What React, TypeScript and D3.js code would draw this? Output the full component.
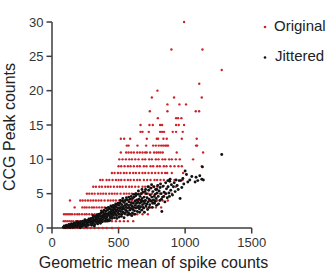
import React from "react";
import * as d3 from "d3";

const W = 329;
const H = 275;

const xTicks = [0, 500, 1000, 1500];
const yTicks = [0, 5, 10, 15, 20, 25, 30];

// Original (integer peak counts): x positions per count level
const originalRows: [number, number[]][] = [
  [0, [90, 105, 120, 140, 155, 175, 195, 215, 240, 265, 290, 320, 350, 380, 410, 450, 500]],
  [1, [88, 100, 115, 130, 145, 160, 180, 195, 215, 235, 250, 270, 290, 310, 330, 355, 380, 400, 425, 450, 480, 510, 540, 570, 610]],
  [2, [90, 105, 120, 135, 150, 170, 190, 205, 225, 245, 260, 280, 300, 320, 340, 360, 385, 410, 430, 455, 480, 500, 525, 550, 580, 610, 640, 680, 720]],
  [3, [170, 228, 245, 260, 280, 300, 315, 335, 355, 375, 395, 420, 440, 460, 485, 510, 530, 555, 580, 600, 625, 650, 680, 710, 740, 780, 820]],
  [4, [135, 212, 230, 250, 270, 290, 310, 330, 350, 370, 395, 420, 440, 460, 480, 505, 530, 550, 575, 600, 625, 650, 675, 700, 730, 760, 790, 830, 870]],
  [5, [262, 280, 300, 320, 345, 365, 385, 405, 430, 450, 470, 490, 515, 540, 560, 580, 600, 625, 650, 675, 700, 725, 750, 780, 810, 850, 900]],
  [6, [310, 330, 355, 375, 400, 420, 440, 465, 490, 510, 530, 555, 580, 600, 625, 650, 680, 700, 730, 760, 790, 830, 870, 930]],
  [7, [362, 380, 410, 430, 455, 480, 500, 520, 545, 570, 590, 615, 640, 660, 690, 715, 740, 770, 790, 815, 840, 880, 920, 980]],
  [8, [450, 470, 495, 515, 540, 560, 585, 610, 630, 655, 680, 700, 725, 750, 775, 800, 825, 850, 865, 900, 985]],
  [9, [500, 520, 545, 570, 590, 615, 640, 660, 690, 710, 740, 760, 790, 810, 840, 860, 890, 920, 950, 975, 1125]],
  [10, [505, 530, 555, 580, 600, 625, 650, 680, 700, 730, 750, 780, 800, 830, 850, 880, 900, 930, 960, 1060]],
  [11, [517, 557, 575, 595, 615, 640, 660, 680, 700, 712, 737, 767, 785, 800, 815, 832, 937, 1135]],
  [12, [562, 575, 642, 707, 760, 780, 802, 820, 835, 850, 862, 872, 1082, 1090]],
  [13, [517, 542, 587, 712, 787, 797, 837, 862, 975, 1087]],
  [14, [665, 680, 727, 812, 827, 842, 907, 932, 982]],
  [15, [665, 732, 757, 812, 827, 932, 952, 992]],
  [16, [795, 932, 947, 972]],
  [17, [735, 867, 1080, 1105]],
  [18, [867, 957, 1007]],
  [19, [750, 917, 1125]],
  [20, [792]],
  [21, [1106]],
  [23, [1275]],
  [26, [897, 1130]],
  [30, [992]],
];

// Jittered points [x, y]
const jittered: [number, number][] = [
  [85,0.1],[92,0.3],[98,0.05],[103,0.2],[108,0.4],[112,0.1],[118,0.3],[122,0.15],[127,0.5],[131,0.2],[135,0.05],[140,0.35],[144,0.6],[149,0.25],[153,0.1],[158,0.45],[162,0.3],[167,0.7],[171,0.2],[176,0.5],[180,0.35],[185,0.8],[189,0.15],[194,0.55],[198,0.4],
  [203,0.7],[207,0.3],[212,0.9],[216,0.5],[221,0.2],[225,0.65],[230,1.0],[234,0.4],[238,0.8],[243,0.55],[247,1.2],[251,0.3],[256,0.9],[260,0.6],[264,1.1],[269,0.75],[273,0.4],[277,1.3],[282,0.9],[286,1.0],[290,0.6],[295,1.4],[299,0.85],
  [303,1.1],[306,0.7],[310,1.5],[313,0.9],[317,1.2],[320,0.5],[324,1.7],[327,1.0],[331,1.3],[334,0.8],[338,1.9],[341,1.4],[345,1.1],[348,1.6],[352,0.9],[355,2.0],[359,1.3],[362,1.7],[366,1.1],[369,2.2],[373,1.5],[376,1.8],[380,1.2],[383,2.3],[387,1.6],[390,1.9],[394,1.4],[397,2.1],
  [401,1.7],[404,2.4],[407,1.3],[410,2.0],[413,1.6],[416,2.6],[419,1.9],[422,1.2],[425,2.2],[428,2.8],[431,1.8],[434,2.3],[437,1.5],[440,2.7],[443,2.0],[446,2.4],[449,1.7],[452,3.0],[455,2.2],[458,2.6],[461,1.9],[464,2.9],[467,2.3],[470,3.2],[473,2.0],[476,2.7],[479,2.4],[482,3.1],[485,1.8],[488,2.6],[491,3.4],[494,2.2],[497,2.9],
  [500,2.5],[503,3.3],[506,2.0],[509,2.8],[512,3.6],[515,2.4],[518,3.0],[521,1.7],[524,3.4],[527,2.7],[530,3.9],[533,2.3],[536,3.1],[539,2.8],[542,3.7],[545,2.1],[548,3.3],[551,4.0],[554,2.6],[557,3.0],[560,3.5],[563,2.4],[566,4.1],[569,2.9],[572,3.3],[575,2.2],[578,3.8],[581,3.0],[584,2.6],[587,4.2],[590,3.4],[593,2.8],[596,3.7],[599,1.8],
  [602,3.2],[605,4.3],[608,2.7],[611,3.6],[614,3.0],[617,4.5],[620,2.5],[623,3.9],[626,3.3],[629,4.7],[632,2.9],[635,3.6],[638,4.1],[641,2.4],[644,3.8],[647,4.9],[650,3.2],[653,4.2],[656,2.8],[659,3.6],[662,4.6],[665,3.1],[668,5.0],[671,3.8],[674,2.6],[677,4.3],[680,3.4],[683,5.2],[686,3.9],[689,2.9],[692,4.5],[695,3.6],[698,5.3],
  [702,4.0],[706,3.2],[710,5.0],[714,4.4],[718,2.7],[722,3.8],[726,5.5],[730,4.2],[734,3.4],[738,4.8],[742,5.8],[746,3.9],[750,4.5],[754,3.0],[758,5.3],[762,4.1],[766,6.0],[770,3.6],[774,4.9],[778,5.6],[782,4.3],[786,3.3],[790,5.1],[794,6.2],[798,4.6],
  [805,5.4],[810,4.0],[815,6.4],[820,5.0],[825,2.4],[830,4.5],[836,6.1],[842,5.2],[848,3.8],[854,6.6],[860,5.7],[866,4.4],[872,6.0],[878,5.1],[884,6.8],[887,7.1],[892,5.5],[897,6.3],
  [905,4.8],[912,6.0],[918,6.6],[925,5.3],[932,7.0],[940,6.2],[948,5.6],[955,6.9],[962,4.3],[967,6.9],[975,5.9],[983,7.2],[990,6.4],[1000,8.3],[1010,7.8],[1020,6.7],[1035,7.0],[1050,7.5],[1075,6.7],[1082,7.4],[1095,6.9],[1110,7.6],[1125,7.1],[1130,8.9],[1137,7.0],[1275,10.7],
  // extra density in the main band
  [150,0.6],[165,0.1],[190,0.9],[210,0.05],[228,0.3],[245,0.9],[258,0.2],[272,1.0],[288,1.3],[298,0.4],
  [308,1.8],[318,0.3],[329,1.6],[343,0.6],[350,1.9],[364,0.7],[371,2.5],[378,0.9],[392,2.6],[399,1.0],
  [405,2.9],[415,1.0],[424,3.0],[433,1.1],[442,3.2],[451,1.4],[460,3.3],[469,1.5],[478,3.5],[487,1.4],
  [496,3.6],[504,1.6],[514,4.0],[523,2.0],[532,4.3],[541,1.5],[550,2.2],[559,4.4],[568,1.9],[577,4.5],
  [586,2.0],[595,4.6],[604,2.2],[613,4.9],[622,2.0],[631,5.0],[640,3.0],[649,5.4],[658,2.3],[667,4.0],
  [676,5.6],[685,3.0],[694,2.3],[703,5.6],[712,3.5],[721,6.0],[730,3.0],[739,4.0],[748,6.3],[757,3.6],
  [768,4.6],[776,3.9],[788,5.6],[800,3.5],[812,5.9],[822,4.2],[840,4.6],[856,5.0],[870,6.9],[882,4.6],
];

const legendLabels = ["Original", "Jittered"];

const RED = "#cc2229";
const BLACK = "#111111";
const AXIS = "#3d3d3d";
const FONT = "'Liberation Sans', Arial, sans-serif";

export default function App() {
  const x = d3.scaleLinear().domain([0, 1500]).range([52, 251.7]);
  const y = d3.scaleLinear().domain([0, 30]).range([228, 22]);

  const originalPts: [number, number][] = [];
  originalRows.forEach(([lvl, xs]) => xs.forEach((v) => originalPts.push([v, lvl])));

  return (
    <svg
      width={W}
      height={H}
      style={{ position: "absolute", left: 0, top: 0, background: "#fff" }}
      fontFamily={FONT}
    >
      {/* axes */}
      <line x1={x(0)} x2={x(0)} y1={y(30)} y2={y(0)} stroke={AXIS} strokeWidth={1.5} />
      <line x1={x(0)} x2={x(1500)} y1={y(0)} y2={y(0)} stroke={AXIS} strokeWidth={1.5} />
      {yTicks.map((t) => (
        <g key={"y" + t}>
          <line x1={x(0) - 5.5} x2={x(0)} y1={y(t)} y2={y(t)} stroke={AXIS} strokeWidth={1.5} />
          <text x={x(0) - 8.5} y={y(t) + 4.7} textAnchor="end" fontSize={13} fill="#333">
            {t}
          </text>
        </g>
      ))}
      {xTicks.map((t) => (
        <g key={"x" + t}>
          <line x1={x(t)} x2={x(t)} y1={y(0)} y2={y(0) + 5.5} stroke={AXIS} strokeWidth={1.5} />
          <text x={x(t)} y={247.3} textAnchor="middle" fontSize={13} fill="#333">
            {t}
          </text>
        </g>
      ))}
      <text x={153.5} y={268.3} textAnchor="middle" fontSize={16} fill="#222">
        Geometric mean of spike counts
      </text>
      <text
        transform={`translate(15,127) rotate(-90)`}
        textAnchor="middle"
        fontSize={16}
        fill="#222"
      >
        CCG Peak counts
      </text>

      {/* data */}
      {originalPts.map(([a, b], i) => (
        <circle key={"o" + i} cx={x(a)} cy={y(b)} r={1.2} fill={RED} />
      ))}
      {jittered.map(([a, b], i) => (
        <circle key={"j" + i} cx={x(a)} cy={y(b)} r={1.45} fill={BLACK} />
      ))}

      {/* legend */}
      <circle cx={265} cy={27} r={1.3} fill={RED} />
      <text x={274} y={31} fontSize={15} fill="#222">{legendLabels[0]}</text>
      <circle cx={265} cy={57.5} r={1.3} fill={BLACK} />
      <text x={275} y={61} fontSize={15} fill="#222">{legendLabels[1]}</text>
    </svg>
  );
}
